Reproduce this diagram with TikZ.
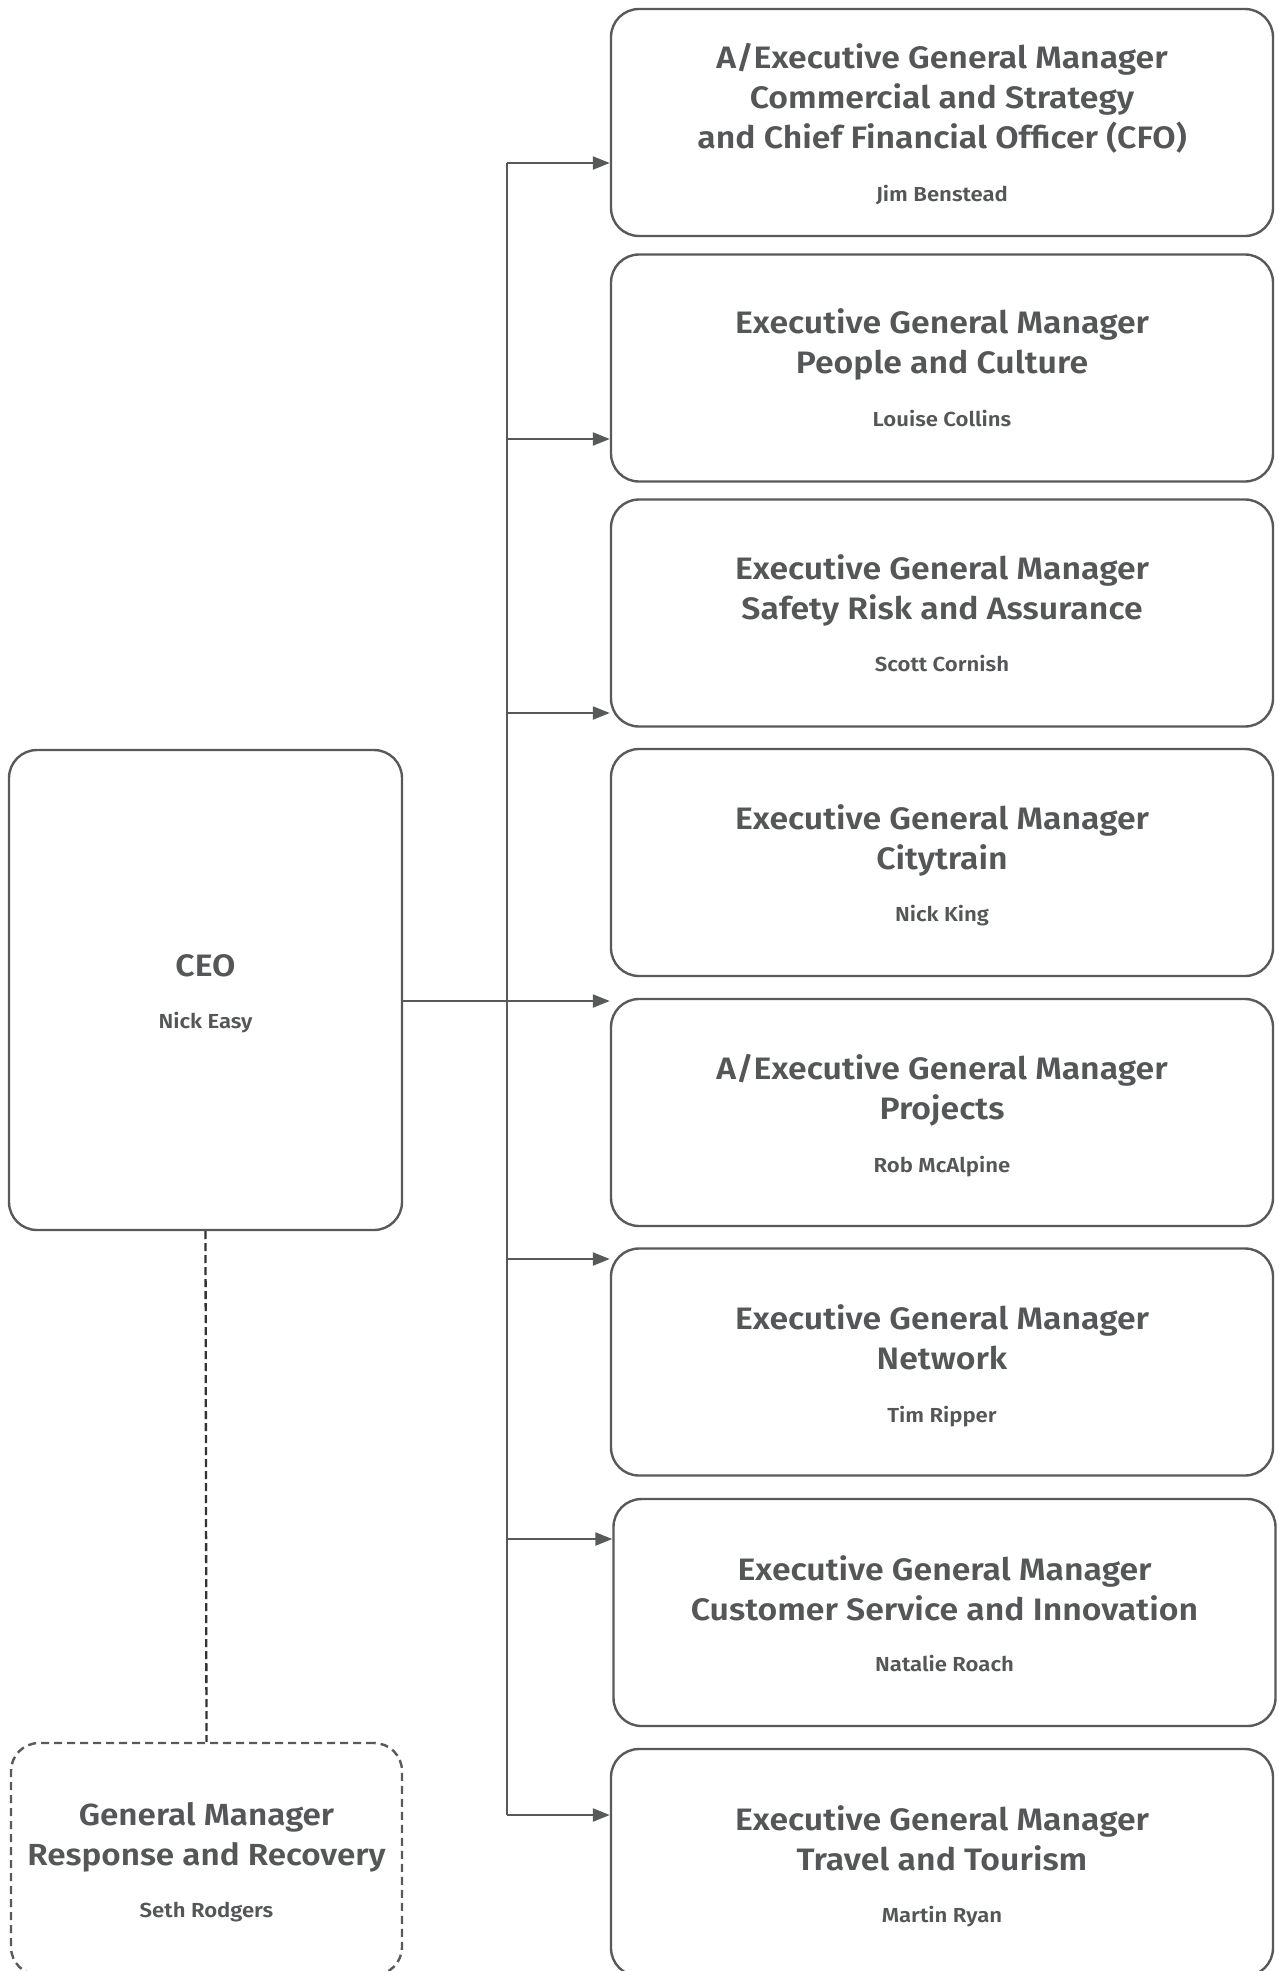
\documentclass[tikz,border=0pt]{standalone}
\usepackage{fontspec}
\setmainfont{Fira Sans}[UprightFont={* Medium}, BoldFont={* SemiBold}, FakeStretch=1.09]
\usetikzlibrary{arrows.meta}
\definecolor{linec}{HTML}{58595B}
\definecolor{textc}{HTML}{555658}
\definecolor{dashc}{HTML}{333333}
\begin{document}
\begin{tikzpicture}[x=1pt,y=-1pt,
  box/.style={draw=linec, line width=2.4pt, rounded corners=28pt, minimum width=662pt, minimum height=227pt, inner sep=0pt},
  dbox/.style={box, dash pattern=on 8pt off 5pt},
  ttl/.style={text=textc, font=\fontsize{31}{40}\selectfont\bfseries, align=center, inner sep=0pt, anchor=base},
  nm/.style={text=textc, font=\fontsize{20.3}{24}\selectfont\bfseries, inner sep=0pt, anchor=base},
  arr/.style={draw=linec, line width=2.3pt, -{Triangle[length=17pt,width=13pt]}},
  trunk/.style={draw=linec, line width=2.3pt},
  dline/.style={draw=dashc, line width=2.3pt, dash pattern=on 8pt off 4pt}]
\useasboundingbox (0,0) rectangle (1279,1971);
\clip (0,0) rectangle (1279,1971);
% right column boxes
\node[box] (b1) at (942,122.5) {};
\node[box] (b2) at (942,368) {};
\node[box] (b3) at (942,613) {};
\node[box] (b4) at (942,862.5) {};
\node[box] (b5) at (942,1112.5) {};
\node[box] (b6) at (942,1362) {};
\node[box] (b7) at (944.5,1612.5) {};
\node[box] (b8) at (942,1862.5) {};
% left boxes
\node[box, minimum width=393pt, minimum height=480pt] (ceo) at (205.5,990) {};
\node[dbox, minimum width=391pt, minimum height=232pt] (gm) at (206.5,1859) {};
% texts (base = baseline of last title line)
\node[ttl] (b1t) at (942,148) {A/Executive General Manager\\Commercial and Strategy\\and Chief Financial Officer (CFO)};
\node[nm] (b1n) at (942,201) {Jim Benstead};
\node[ttl] (b2t) at (942,373) {Executive General Manager\\People and Culture};
\node[nm] (b2n) at (942,426) {Louise Collins};
\node[ttl] (b3t) at (942,619) {Executive General Manager\\Safety Risk and Assurance};
\node[nm] (b3n) at (942,671) {Scott Cornish};
\node[ttl] (b4t) at (942,869) {Executive General Manager\\Citytrain};
\node[nm] (b4n) at (942,921) {Nick King};
\node[ttl] (b5t) at (942,1119) {A/Executive General Manager\\Projects};
\node[nm] (b5n) at (942,1172) {Rob McAlpine};
\node[ttl] (b6t) at (942,1369) {Executive General Manager\\Network};
\node[nm] (b6n) at (942,1422) {Tim Ripper};
\node[ttl] (b7t) at (944.5,1620) {Executive General Manager\\Customer Service and Innovation};
\node[nm] (b7n) at (944.5,1671) {Natalie Roach};
\node[ttl] (b8t) at (942,1870) {Executive General Manager\\Travel and Tourism};
\node[nm] (b8n) at (942,1922) {Martin Ryan};
\node[ttl] (ceot) at (205.5,976) {CEO};
\node[nm] (ceon) at (205.5,1028) {Nick Easy};
\node[ttl, font=\fontsize{30.5}{40}\selectfont\bfseries] (gmt) at (206.5,1865) {General Manager\\Response and Recovery};
\node[nm] (gmn) at (206.5,1917) {Seth Rodgers};
% trunk coordinates
\coordinate (t1) at (507,163);
\coordinate (t2) at (507,439);
\coordinate (t3) at (507,713);
\coordinate (t4) at (507,1001);
\coordinate (t5) at (507,1259);
\coordinate (t6) at (507,1539);
\coordinate (t7) at (507,1815);
\draw[trunk] (t1) -- (t7);
\draw[arr] (t1) -- (t1 -| b1.west);
\draw[arr] (t2) -- (t2 -| b2.west);
\draw[arr] (t3) -- (t3 -| b3.west);
\draw[arr] (t4 -| ceo.east) -- (t4 -| b5.west);
\draw[arr] (t5) -- (t5 -| b6.west);
\draw[arr] (t6) -- (t6 -| b7.west);
\draw[arr] (t7) -- (t7 -| b8.west);
\draw[dline] (ceo.south) -- (gm.north);
\end{tikzpicture}
\end{document}
